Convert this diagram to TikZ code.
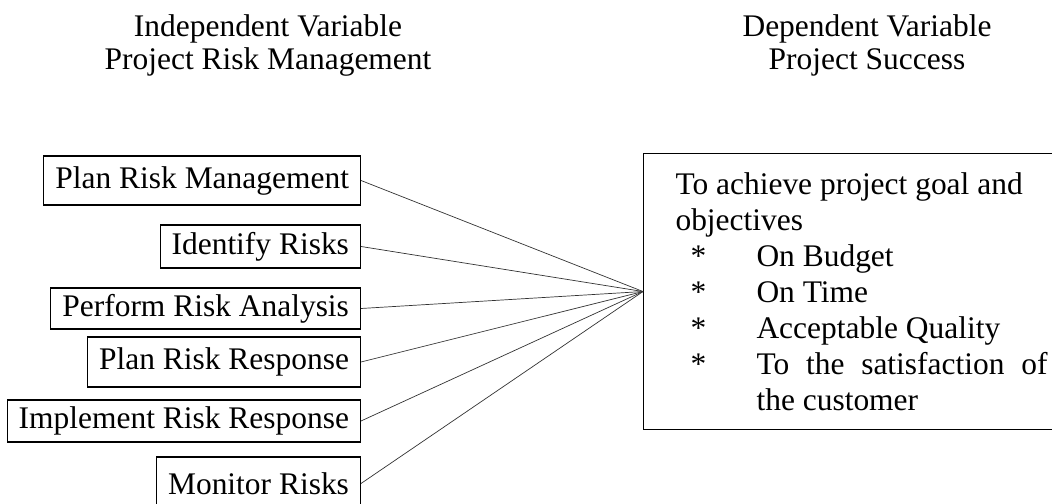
\documentclass[tikz,border=0pt]{standalone}
\usepackage{fontspec}
\setmainfont{Liberation Serif}

\begin{document}
\begin{tikzpicture}[font=\fontsize{17.9}{18.5}\selectfont,
    stage/.style={draw, line width=0.6pt, anchor=east, inner xsep=0.23cm, inner ysep=0.05cm},
    link/.style={black!80, line width=0.4pt}]
  \useasboundingbox (0,0) rectangle (21.04,10.08);
  \clip (0,0) rectangle (21.04,10.08);
  \def\xa{7.22}
  \node[anchor=north, align=center, inner sep=0pt] (indep) at (5.36,9.79)
    {Independent Variable\\Project Risk Management};
  \node[anchor=north, align=center, inner sep=0pt] (dep) at (17.34,9.79)
    {Dependent Variable\\Project Success};
  \node[draw, line width=0.6pt, anchor=north west, align=left, inner xsep=0.64cm,
        inner ysep=0pt, minimum height=5.52cm, font=\fontsize{17.9}{20.5}\selectfont]
    (success) at (12.86,7.02)
    {To achieve project goal and\\
     objectives\\
     \hspace*{0.3cm}\makebox[1.32cm][l]{*}On Budget\\
     \hspace*{0.3cm}\makebox[1.32cm][l]{*}On Time\\
     \hspace*{0.3cm}\makebox[1.32cm][l]{*}Acceptable Quality\\
     \hspace*{0.3cm}\makebox[1.32cm][l]{*}\makebox[5.82cm][s]{To the satisfaction of}\\
     \hspace*{1.62cm}the customer};
  \foreach \nm/\y/\h/\txt in {
      plan/6.47/0.98/{Plan Risk Management},
      ident/5.15/0.86/{Identify Risks},
      analysis/3.91/0.82/{Perform Risk Analysis},
      response/2.84/1.00/{Plan Risk Response},
      implement/1.66/0.84/{Implement Risk Response},
      monitor/0.41/1.06/{Monitor Risks}} {
    \node[stage, minimum height=\h cm] (\nm) at (\xa,\y) {\txt};
    \draw[link] (\nm.east) -- (success.west);
  }
\end{tikzpicture}
\end{document}
